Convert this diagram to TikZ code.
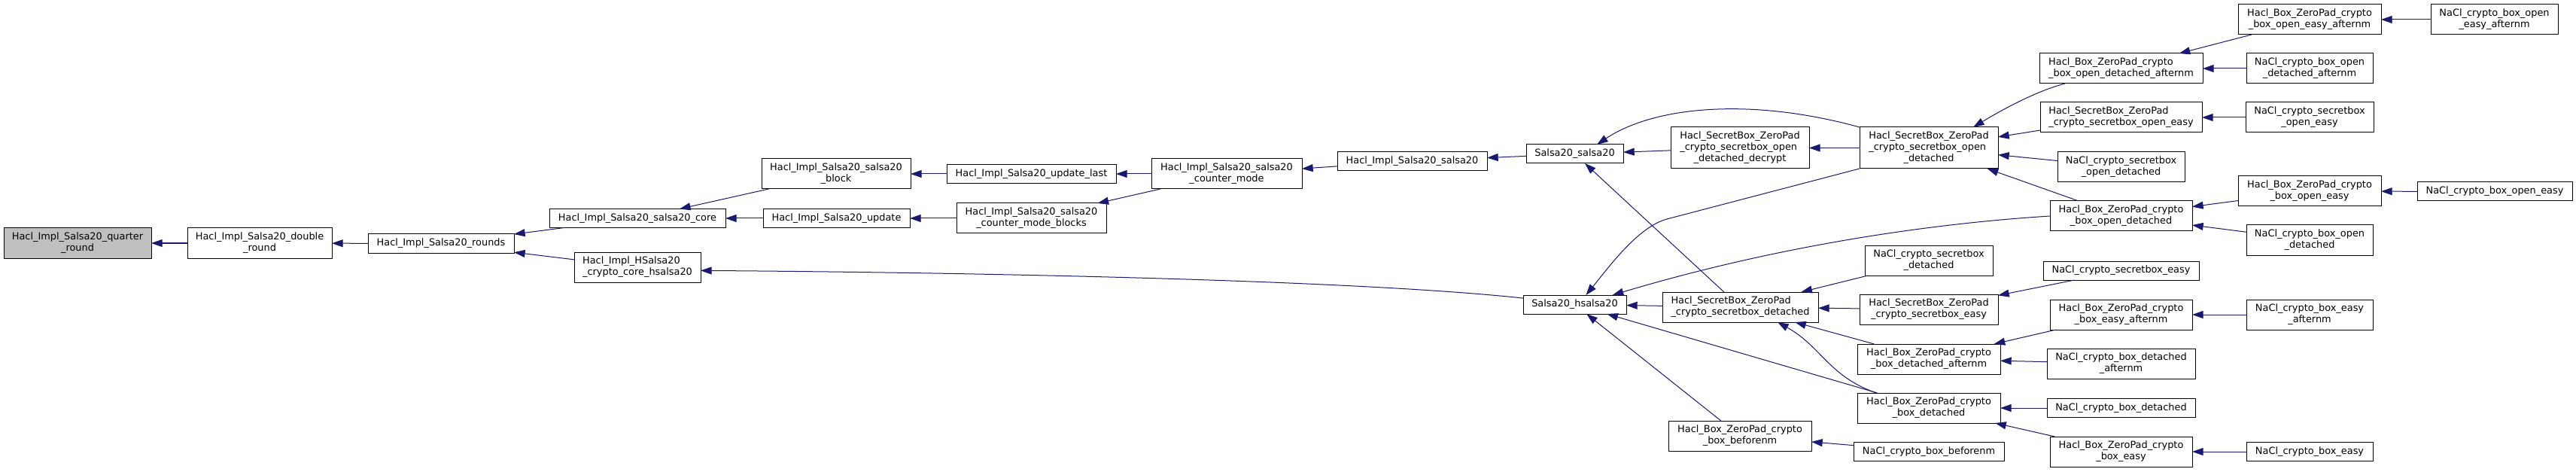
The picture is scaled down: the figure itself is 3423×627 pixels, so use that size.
\documentclass[tikz,border=0pt]{standalone}
\usepackage{fontspec}
\setmainfont{DejaVu Sans}
\usetikzlibrary{arrows.meta}
\definecolor{edgeblue}{HTML}{191970}
\definecolor{rootgray}{HTML}{BFBFBF}
\newcommand\Lt[2]{\begin{tabular}{@{}l@{}}#1\\\multicolumn{1}{@{}c@{}}{#2}\end{tabular}}
\newcommand\Ltt[3]{\begin{tabular}{@{}l@{}}#1\\#2\\\multicolumn{1}{@{}c@{}}{#3}\end{tabular}}
\newcommand\gnode[7][]{\node[fnbox,#1,minimum width={(#4-#2)*0.75pt},minimum height={(#5-#3)*0.75pt}] (#6) at ({(#2+#4)/2},{(#3+#5)/2}) {#7};}
\tikzset{
  fnbox/.style={draw=black,line width=0.75pt,fill=white,inner sep=0pt,outer sep=0pt,rectangle},
  rootbox/.style={fill=rootgray},
  calls/.style={draw=edgeblue,line width=0.75pt,-{Triangle[length=11pt,width=7.5pt]},shorten >=0pt}
}
\begin{document}
\begin{tikzpicture}[x=0.75pt,y=-0.75pt,font=\fontsize{9.67pt}{11.25pt}\selectfont]
\fill[white] (0,0) rectangle (3423,627);
\useasboundingbox (0,0) rectangle (3423,627);
% nodes
\gnode[rootbox]{5}{303}{201}{343}{qr}{\Lt{Hacl\_Impl\_Salsa20\_quarter}{\_round}}
\gnode{249}{303}{441}{343}{dr}{\Lt{Hacl\_Impl\_Salsa20\_double}{\_round}}
\gnode{489}{311}{683}{336}{rnd}{Hacl\_Impl\_Salsa20\_rounds}
\gnode{730}{277.5}{964}{302.5}{core}{Hacl\_Impl\_Salsa20\_salsa20\_core}
\gnode{763}{335}{931}{375}{hsc}{\Lt{Hacl\_Impl\_HSalsa20}{\_crypto\_core\_hsalsa20}}
\gnode{1012}{211}{1210}{251}{blk}{\Lt{Hacl\_Impl\_Salsa20\_salsa20}{\_block}}
\gnode{1014}{277.5}{1209}{302.5}{upd}{Hacl\_Impl\_Salsa20\_update}
\gnode{1258}{218.5}{1483}{243.5}{updl}{Hacl\_Impl\_Salsa20\_update\_last}
\gnode{1530}{211}{1730}{251}{cm}{\Lt{Hacl\_Impl\_Salsa20\_salsa20}{\_counter\_mode}}
\gnode{1271}{270}{1470}{310}{cmb}{\Lt{Hacl\_Impl\_Salsa20\_salsa20}{\_counter\_mode\_blocks}}
\gnode{1777}{201.5}{1976}{226.5}{his}{Hacl\_Impl\_Salsa20\_salsa20}
\gnode{2028}{192}{2157}{217}{s20}{Salsa20\_salsa20}
\gnode{2220}{169}{2404}{224}{dec}{\Ltt{Hacl\_SecretBox\_ZeroPad}{\_crypto\_secretbox\_open}{\_detached\_decrypt}}
\gnode{2471}{169}{2655}{224}{od}{\Ltt{Hacl\_SecretBox\_ZeroPad}{\_crypto\_secretbox\_open}{\_detached}}
\gnode{2710}{71}{2927}{111}{boda}{\Lt{Hacl\_Box\_ZeroPad\_crypto}{\_box\_open\_detached\_afternm}}
\gnode{2711}{136}{2926}{176}{soe}{\Lt{Hacl\_SecretBox\_ZeroPad}{\_crypto\_secretbox\_open\_easy}}
\gnode{2734}{202}{2903}{242}{nsod}{\Lt{NaCl\_crypto\_secretbox}{\_open\_detached}}
\gnode{2724}{267}{2913}{307}{bod}{\Lt{Hacl\_Box\_ZeroPad\_crypto}{\_box\_open\_detached}}
\gnode{2024}{392}{2161}{417}{hs}{Salsa20\_hsalsa20}
\gnode{2209}{388}{2416}{428}{sd}{\Lt{Hacl\_SecretBox\_ZeroPad}{\_crypto\_secretbox\_detached}}
\gnode{2217}{559}{2407}{599}{bbn}{\Lt{Hacl\_Box\_ZeroPad\_crypto}{\_box\_beforenm}}
\gnode{2478}{326}{2648}{366}{nsd}{\Lt{NaCl\_crypto\_secretbox}{\_detached}}
\gnode{2471}{391}{2655}{431}{se}{\Lt{Hacl\_SecretBox\_ZeroPad}{\_crypto\_secretbox\_easy}}
\gnode{2468}{457}{2658}{497}{bda}{\Lt{Hacl\_Box\_ZeroPad\_crypto}{\_box\_detached\_afternm}}
\gnode{2468}{522}{2658}{562}{bd}{\Lt{Hacl\_Box\_ZeroPad\_crypto}{\_box\_detached}}
\gnode{2463}{587.5}{2663}{612.5}{nbbn}{NaCl\_crypto\_box\_beforenm}
\gnode{2715}{347}{2922}{372}{nse}{NaCl\_crypto\_secretbox\_easy}
\gnode{2724}{398}{2913}{438}{bea}{\Lt{Hacl\_Box\_ZeroPad\_crypto}{\_box\_easy\_afternm}}
\gnode{2720}{463}{2917}{503}{nbda}{\Lt{NaCl\_crypto\_box\_detached}{\_afternm}}
\gnode{2720}{529.5}{2917}{554.5}{nbd}{NaCl\_crypto\_box\_detached}
\gnode{2724}{580}{2913}{620}{be}{\Lt{Hacl\_Box\_ZeroPad\_crypto}{\_box\_easy}}
\gnode{2974}{6}{3164}{46}{boea}{\Lt{Hacl\_Box\_ZeroPad\_crypto}{\_box\_open\_easy\_afternm}}
\gnode{3230}{6}{3399}{46}{nboea}{\Lt{NaCl\_crypto\_box\_open}{\_easy\_afternm}}
\gnode{2985}{71}{3153}{111}{nboda}{\Lt{NaCl\_crypto\_box\_open}{\_detached\_afternm}}
\gnode{2984}{136}{3154}{176}{nsoe}{\Lt{NaCl\_crypto\_secretbox}{\_open\_easy}}
\gnode{2974}{234}{3164}{274}{boe}{\Lt{Hacl\_Box\_ZeroPad\_crypto}{\_box\_open\_easy}}
\gnode{3212}{242}{3418}{267}{nboe}{NaCl\_crypto\_box\_open\_easy}
\gnode{2985}{299}{3153}{339}{nbod}{\Lt{NaCl\_crypto\_box\_open}{\_detached}}
\gnode{2985}{398}{3153}{438}{nbea}{\Lt{NaCl\_crypto\_box\_easy}{\_afternm}}
\gnode{2985}{587.5}{3153}{612.5}{nbe}{NaCl\_crypto\_box\_easy}
% edges (arrow at the called function)
\draw[calls] (dr) -- (qr);
\draw[calls] (rnd) -- (dr);
\draw[calls] (core) -- (rnd);
\draw[calls] (hsc) -- (rnd);
\draw[calls] (blk) -- (core);
\draw[calls] (upd) -- (core);
\draw[calls] (updl) -- (blk);
\draw[calls] (cmb) -- (upd);
\draw[calls] (cm) -- (updl);
\draw[calls] (cm) -- (cmb);
\draw[calls] (his) -- (cm);
\draw[calls] (s20) -- (his);
\draw[calls] (dec) -- (s20);
\draw[calls] (od.north west) .. controls (2330,130) and (2200,140) .. (s20.23);
\draw[calls] (sd) -- (s20);
\draw[calls] (hs.173) .. controls (1800,372) and (1300,362) .. (hsc.-3);
\draw[calls] (od) -- (dec);
\draw[calls] (od.south west) -- (2215,291) .. controls (2177,301.5) and (2140,352) .. (hs.40);
\draw[calls] (bod.west) .. controls (2550,298) and (2350,330) .. (hs.14);
\draw[calls] (sd) -- (hs);
\draw[calls] (bd) -- (hs);
\draw[calls] (bbn) -- (hs);
\draw[calls] (nsd) -- (sd);
\draw[calls] (se) -- (sd);
\draw[calls] (bda) -- (sd);
\draw[calls] (bd.164) .. controls (2430,500) and (2420,460) .. (sd.-22);
\draw[calls] (nse) -- (se);
\draw[calls] (bea) -- (bda);
\draw[calls] (nbda) -- (bda);
\draw[calls] (nbd) -- (bd);
\draw[calls] (be) -- (bd);
\draw[calls] (nbbn) -- (bbn);
\draw[calls] (nbea) -- (bea);
\draw[calls] (nbe) -- (be);
\draw[calls] (boda.195.6) .. controls (2710,120) and (2670,140) .. (od.25.4);
\draw[calls] (soe) -- (od);
\draw[calls] (nsod) -- (od);
\draw[calls] (bod) -- (od);
\draw[calls] (boea) -- (boda);
\draw[calls] (nboea) -- (boea);
\draw[calls] (nboda) -- (boda);
\draw[calls] (nsoe) -- (soe);
\draw[calls] (boe) -- (bod);
\draw[calls] (nbod) -- (bod);
\draw[calls] (nboe) -- (boe);
\end{tikzpicture}
\end{document}
